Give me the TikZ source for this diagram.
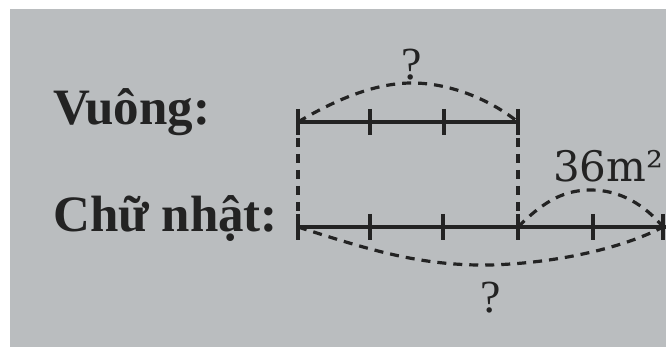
\documentclass[tikz,border=0pt]{standalone}
\usepackage{fontspec}
\setmainfont{Liberation Serif}
\newfontfamily\numfont{DejaVu Serif}
\definecolor{paper}{RGB}{186,189,191}
\definecolor{ink}{RGB}{35,35,35}
\tikzset{
  seg/.style={draw=ink, line width=3.2pt},
  tickmark/.style={draw=ink, line width=3.2pt},
  dashline/.style={draw=ink, line width=3.2pt, dash pattern=on 9pt off 7pt},
  lab/.style={inner sep=0pt, text=ink, font=\fontsize{51}{57}\selectfont\bfseries},
  qmark/.style={inner sep=0pt, text=ink, font=\fontsize{46}{52}\selectfont},
  area/.style={inner sep=0pt, text=ink, font=\numfont\fontsize{42}{48}\selectfont}
}
\begin{document}
\begin{tikzpicture}[x=1pt,y=-1pt]
\useasboundingbox (0,0) rectangle (666,347);
\clip (0,0) rectangle (666,347);
\fill[white] (0,0) rectangle (666,347);
\fill[paper] (10,9) rectangle (666,347);

% labels
\node[lab, anchor=base west] (vuong) at (53,125) {Vuông:};
\node[lab, anchor=base west] (chunhat) at (53,232) {Chữ nhật:};
\node[qmark, anchor=base] (q1) at (412,80) {?};
\node[qmark, anchor=base] (q2) at (491,312) {?};
\node[area, anchor=base west] (a36) at (553,182) {36m²};

% points
\coordinate (a0) at (298,122);
\coordinate (a1) at (370,122);
\coordinate (a2) at (444,122);
\coordinate (a3) at (518,122);
\coordinate (b0) at (298,227);
\coordinate (b1) at (370,227);
\coordinate (b2) at (443,227);
\coordinate (b3) at (518,227);
\coordinate (b4) at (593,227);
\coordinate (b5) at (663,227);
\coordinate (bend) at (672,227);

% segments
\draw[seg] (a0) -- (a3);
\draw[seg] (b0) -- (bend);
\foreach \c in {a0,a1,a2,a3,b0,b1,b2,b3,b4,b5}
  \draw[tickmark] ([yshift=13pt]\c) -- ([yshift=-13pt]\c);

% vertical dashed guides
\draw[dashline] (a0) -- (b0);
\draw[dashline] (a3) -- (b3);

% braces (dashed arcs)
\draw[dashline] (a0) .. controls (340,97) and (378,83) .. (412,83)
                     .. controls (448,83) and (488,98) .. (a3);
\draw[dashline] (b0) .. controls (370,250) and (420,266) .. (490,265)
                     .. controls (560,263) and (625,247) .. (b5);
\draw[dashline] (b3) .. controls (545,200) and (565,190) .. (591,190)
                     .. controls (620,190) and (645,205) .. (b5);
\end{tikzpicture}
\end{document}
